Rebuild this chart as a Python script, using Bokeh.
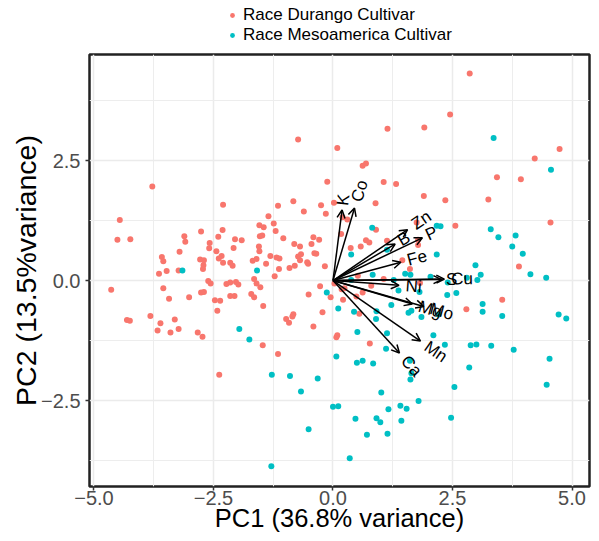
import numpy as np
from bokeh.plotting import figure
from bokeh.layouts import column
from bokeh.models import (Range1d, FixedTicker, ColumnDataSource, Arrow, OpenHead,
                          Legend, LegendItem, CustomJSTickFormatter)
from bokeh.core.properties import value
from bokeh.embed import file_html
from bokeh.resources import INLINE

# ---------------- data ----------------
durango_pc1 = [-0.73, 0.09, -3.78, -0.12, -4.46, -2.30, -1.15, -0.83, -0.61, -0.25, -0.15, 0.02,
               -1.35, -1.54, -1.45, -1.24, -1.20, -1.48, -1.53, -4.51, -4.24, -3.11, -3.09, -2.76,
               -2.31, -2.40, -2.05, -1.91, -1.04, -0.41, -0.29, -2.58, -2.59, -2.08, -1.55, -1.54,
               -0.81, -0.69, -0.45, -3.21, -2.44, -3.58, -3.55, -2.78, -2.70, -2.71, -2.72, -2.33,
               -2.39, -2.30, -2.15, -2.10, -1.68, -1.60, -1.40, -1.31, -1.18, -1.12, -1.13, -1.22,
               -0.91, -0.80, -0.73, -0.67, -0.69, -0.54, -0.39, -0.35, -0.17, -3.48, -3.64, -3.23,
               -2.61, -2.56, -2.23, -2.15, -2.03, -1.98, -1.65, -1.60, -1.52, -4.64, -3.55, -0.27,
               0.03, -3.43, -3.01, -2.76, -2.70, -2.47, -2.36, -2.42, -2.15, -2.06, -1.71, -1.65,
               -1.46, -0.51, -0.05, -0.22, -0.41, -0.98, -0.92, -0.85, -0.83, -4.31, -4.25, -3.82,
               -3.61, -3.67, -3.31, -3.23, -3.40, -2.83, -2.73, -1.47, -1.15, -2.38, 0.07, 0.09,
               2.86, 2.45, 1.14, 1.91, 4.74, 4.22, 0.62, 0.69, 3.43, 3.93, 1.06, 1.32,
               1.90, 2.35, 3.25, 0.89, 0.20, 0.30, 0.17, 4.55, 2.56, 3.89, 0.90, 0.37,
               0.58, 0.69, 0.76, 1.13, 1.78, 1.78, 1.75, 1.45, 1.61, 0.52, 1.06, 1.82,
               0.80, 3.54, 2.79, 0.55, 0.49, 0.62, 0.21, 0.18, 0.24, 0.77, -0.52]
durango_pc2 = [2.94, 2.76, 1.96, 2.06, 1.26, 1.58, 1.56, 1.65, 1.44, 1.57, 1.39, 1.62,
               1.34, 1.15, 1.11, 1.19, 1.03, 0.94, 0.92, 0.85, 0.86, 0.92, 0.81, 1.02,
               1.05, 0.91, 0.86, 0.84, 0.88, 0.90, 0.85, 0.78, 0.67, 0.68, 0.71, 0.61,
               0.76, 0.71, 0.76, 0.60, 0.61, 0.49, 0.40, 0.44, 0.42, 0.32, 0.24, 0.51,
               0.46, 0.37, 0.37, 0.31, 0.41, 0.45, 0.35, 0.51, 0.48, 0.46, 0.24, 0.09,
               0.26, 0.31, 0.50, 0.55, 0.42, 0.38, 0.57, 0.56, 0.30, 0.20, 0.14, 0.21,
               -0.01, -0.06, -0.07, -0.04, -0.03, -0.08, 0.03, -0.06, -0.14, -0.19, -0.16, -0.12,
               -0.06, -0.38, -0.35, -0.25, -0.24, -0.41, -0.42, -0.63, -0.32, -0.32, -0.28, -0.35,
               -0.53, -0.29, -0.35, -0.66, -0.96, -0.80, -0.88, -0.75, -0.70, -0.82, -0.84, -0.74,
               -0.89, -1.04, -0.81, -1.01, -1.08, -1.08, -1.17, -1.35, -1.53, -1.96, -1.18, -1.14,
               4.31, 3.46, 3.16, 3.19, 2.74, 2.54, 2.39, 2.44, 2.15, 2.11, 2.05, 2.01,
               1.76, 1.67, 1.69, 1.61, 1.32, 1.27, 0.97, 1.21, 1.14, 0.29, 1.06, 0.68,
               0.71, 0.84, 0.79, 0.83, 0.85, 0.74, 1.21, 0.42, 0.24, 0.10, 0.03, -0.05,
               -0.11, -0.40, -0.60, -0.69, -0.33, -0.25, -0.40, -0.18, -0.16, -1.31, 0.35]

meso_pc1 = [-3.15, -1.59, -0.13, 0.11, -1.96, -1.75, -1.28, -0.90, -0.32, -0.67, 0.00, 0.11,
            -0.51, -1.29, 0.07,
            3.36, 4.56, 2.17, 2.25, 3.30, 3.46, 3.82, 3.75, 3.97, 4.13, 4.46, 2.98, 3.09, 3.02,
            0.82, 0.38, 1.13, 2.17, 1.51, 1.62, 2.04, 0.83, 1.27, 2.80, 0.38, 2.40,
            3.13, 3.13, 3.54, 4.72, 4.88, 2.39, 2.58, 1.81, 1.37, 1.22, 1.58, 1.64, 1.85, 2.21,
            0.91, 0.90, 0.44, 0.51, 1.13, 1.11, 0.50, 0.62, 0.84, 1.61, 1.64, 1.62, 2.10, 2.34,
            2.88, 3.00, 3.31, 3.78, 4.53, 2.85, 4.47, 2.54, 1.01, 1.79, 1.41, 1.54, 1.16, 0.47,
            0.91, 0.99, 1.43, 2.47, 0.71, 1.14, 0.35]
meso_pc2 = [0.21, 0.21, -0.25, -0.58, -1.01, -1.23, -1.96, -1.99, -2.04, -2.31, -2.63, -2.62,
            -3.10, -3.87, -1.58,
            2.97, 2.31, 1.14, 1.13, 1.07, 0.90, 0.94, 0.71, 0.56, 0.13, 0.06, 0.32, 0.12, 0.01,
            1.10, 0.54, 0.64, 0.54, 0.14, 0.12, 0.08, 0.12, 0.01, 0.06, 0.01, -0.04,
            -0.49, -0.65, -0.74, -0.71, -0.79, -0.30, -0.26, -0.24, -0.21, -0.51, -0.67, -0.63, -0.76, -0.71,
            -0.64, -0.80, -0.65, -1.07, -1.10, -1.42, -1.71, -1.67, -1.73, -1.67, -1.93, -2.06, -1.14, -1.34,
            -1.35, -1.33, -1.36, -1.44, -1.63, -1.81, -2.17, -2.22, -2.33, -2.51, -2.61, -2.67, -2.68, -2.88,
            -2.87, -2.95, -2.92, -2.86, -3.21, -3.19, -3.70]

variables = ["K", "Co", "Zn", "P", "B", "Fe", "S", "Cu", "Ni", "Mg", "Mo", "Mn", "Ca"]
loading_pc1 = [0.19, 0.45, 1.56, 1.87, 1.30, 1.42, 2.27, 2.33, 1.38, 1.66, 1.90, 1.83, 1.39]
loading_pc2 = [1.47, 1.51, 1.06, 0.89, 0.76, 0.38, 0.02, 0.03, -0.10, -0.49, -0.54, -1.26, -1.51]

x_ticks = [-5.0, -2.5, 0.0, 2.5, 5.0]
x_minor = [-3.75, -1.25, 1.25, 3.75]
y_ticks = [-2.5, 0.0, 2.5]
y_minor = [-3.75, -1.25, 1.25, 3.75]

series_names = ["Race Durango Cultivar", "Race Mesoamerica Cultivar"]
series_colors = ["#F8766D", "#00BFC4"]
x_title = "PC1 (36.8% variance)"
y_title = "PC2 (13.5%variance)"

FONT = "Liberation Sans"
PX_PER_UNIT_X = 47.8
W = 597

# ---------------- legend strip (top) ----------------
# ranges far from the data so the proxy renderers only feed the legend
leg = figure(width=W, height=46, x_range=Range1d(100, 101), y_range=Range1d(100, 101),
             output_backend="svg", toolbar_location=None,
             x_axis_type=None, y_axis_type=None,
             min_border_left=0, min_border_right=0, min_border_top=0, min_border_bottom=0)
leg.outline_line_color = None
leg.xgrid.visible = False
leg.ygrid.visible = False
lr1 = leg.scatter(durango_pc1, durango_pc2, size=6, color=series_colors[0], line_color=None)
lr2 = leg.scatter(meso_pc1, meso_pc2, size=6, color=series_colors[1], line_color=None)
legend = Legend(items=[LegendItem(label=series_names[0], renderers=[lr1]),
                       LegendItem(label=series_names[1], renderers=[lr2])],
                location=(137, 1), orientation="vertical",
                label_text_font=FONT, label_text_font_size="17px", label_text_color="black",
                glyph_width=12, glyph_height=20, label_height=20, label_standoff=5,
                spacing=0, padding=0, margin=0, border_line_color=None,
                background_fill_alpha=0)
leg.add_layout(legend)

# ---------------- main plot ----------------
p = figure(width=W, height=493,
           x_range=Range1d(-5.094, 5.366), y_range=Range1d(-4.29, 4.708),
           output_backend="svg", toolbar_location=None,
           min_border_left=89, min_border_right=8, min_border_top=8, min_border_bottom=53)
p.background_fill_color = "white"
p.border_fill_color = "white"
p.outline_line_color = "#222222"
p.outline_line_width = 2.5

fmt = CustomJSTickFormatter(code="return (tick < 0 ? '\u2212' : '') + Math.abs(tick).toFixed(1);")
p.xaxis.ticker = FixedTicker(ticks=x_ticks, minor_ticks=x_minor)
p.yaxis.ticker = FixedTicker(ticks=y_ticks, minor_ticks=y_minor)
for ax in (p.xaxis, p.yaxis):
    ax.formatter = fmt
    ax.axis_line_color = None
    ax.major_tick_line_color = "#333333"
    ax.major_tick_line_width = 1.5
    ax.major_tick_out = 4
    ax.major_tick_in = 0
    ax.minor_tick_line_color = None
    ax.major_label_text_font = FONT
    ax.major_label_text_font_size = "20px"
    ax.major_label_text_color = "#4D4D4D"
    ax.axis_label_text_font = FONT
    ax.axis_label_text_font_style = "normal"
    ax.axis_label_text_color = "black"
p.xaxis.major_label_standoff = 0
p.yaxis.major_label_standoff = 5
p.xaxis.axis_label = x_title
p.xaxis.axis_label_text_font_size = "25.5px"
p.xaxis.axis_label_standoff = -4
p.yaxis.axis_label = y_title
p.yaxis.axis_label_text_font_size = "28.5px"
p.yaxis.axis_label_standoff = -4

for g in (p.xgrid, p.ygrid):
    g.grid_line_color = "#EBEBEB"
    g.grid_line_width = 1.5
    g.minor_grid_line_color = "#EDEDED"
    g.minor_grid_line_width = 1.0

p.scatter(durango_pc1, durango_pc2, size=6, color=series_colors[0], line_color=None)
p.scatter(meso_pc1, meso_pc2, size=6, color=series_colors[1], line_color=None)

# loading arrows
n = len(variables)
asrc = ColumnDataSource(dict(x0=[0.0] * n, y0=[0.0] * n, x1=loading_pc1, y1=loading_pc2))
p.add_layout(Arrow(end=OpenHead(size=8, line_width=1.5, line_color="black"),
                   x_start="x0", y_start="y0", x_end="x1", y_end="y1",
                   line_width=1.5, line_color="black", source=asrc))

lx1 = np.array(loading_pc1)
ly1 = np.array(loading_pc2)
theta = np.arctan2(ly1, lx1)
gap = (2.0 + 2.4 * np.array([len(v) for v in variables])) / PX_PER_UNIT_X
tsrc = ColumnDataSource(dict(x=lx1 + gap * np.cos(theta), y=ly1 + gap * np.sin(theta),
                             t=variables, a=theta))
p.text(x="x", y="y", text="t", angle="a", source=tsrc, text_font=value(FONT),
       text_font_size="17px", text_align="left", text_baseline="middle", text_color="black")

layout = column(leg, p, spacing=0)
open("out.html", "w").write(file_html(layout, INLINE))
